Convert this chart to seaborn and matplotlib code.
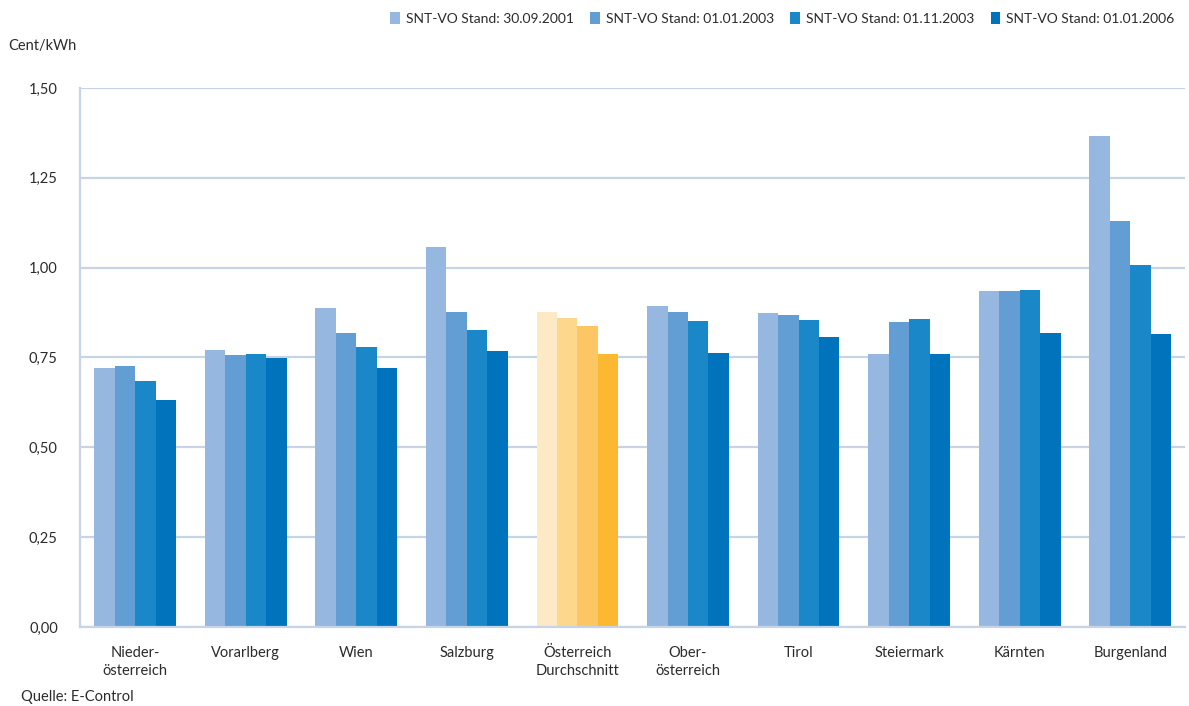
import matplotlib
matplotlib.use("Agg")
import matplotlib.pyplot as plt
import matplotlib.ticker as mticker
from matplotlib.patches import Patch
import numpy as np
import pandas as pd
import seaborn as sns

# Regions (x-axis categories)
regions = [
    "Nieder-\nösterreich", "Vorarlberg", "Wien", "Salzburg",
    "Österreich\nDurchschnitt", "Ober-\nösterreich", "Tirol",
    "Steiermark", "Kärnten", "Burgenland",
]

# Tariff levels (Cent/kWh) per ordinance version
stand_2001_09 = [0.721, 0.771, 0.888, 1.058, 0.877, 0.893, 0.874, 0.760, 0.935, 1.367]
stand_2003_01 = [0.726, 0.757, 0.818, 0.877, 0.860, 0.877, 0.868, 0.849, 0.935, 1.130]
stand_2003_11 = [0.685, 0.760, 0.779, 0.827, 0.838, 0.852, 0.854, 0.857, 0.938, 1.007]
stand_2006_01 = [0.632, 0.749, 0.721, 0.768, 0.760, 0.763, 0.807, 0.760, 0.818, 0.815]

series_names = [
    "SNT-VO Stand: 30.09.2001",
    "SNT-VO Stand: 01.01.2003",
    "SNT-VO Stand: 01.11.2003",
    "SNT-VO Stand: 01.01.2006",
]
series_values = [stand_2001_09, stand_2003_01, stand_2003_11, stand_2006_01]

y_ticks = [0.0, 0.25, 0.5, 0.75, 1.0, 1.25, 1.5]

blues = ["#95b7e0", "#629ed4", "#1a87c9", "#0073bd"]
oranges = ["#fde9c4", "#fdd78c", "#fcc665", "#fcb831"]
highlight = "Österreich\nDurchschnitt"

df = pd.DataFrame(
    [(r, s, v) for s, vals in zip(series_names, series_values) for r, v in zip(regions, vals)],
    columns=["Region", "Stand", "Wert"],
)

sns.set_theme(style="white")
plt.rcParams["font.family"] = ["Lato", "DejaVu Sans"]
text_col = "#2b2b2b"
grid_col = "#c6d4e6"

fig = plt.figure(figsize=(11.89, 7.06), dpi=100)
ax = fig.add_axes([0.0673, 0.1119, 0.9297, 0.7635])

sns.barplot(
    data=df, x="Region", y="Wert", hue="Stand",
    order=regions, hue_order=series_names, palette=blues,
    width=0.74, saturation=1, errorbar=None, legend=False, ax=ax,
)

# Highlight the national average group in orange tones
hi = regions.index(highlight)
for cont, col in zip(ax.containers, oranges):
    cont.patches[hi].set_facecolor(col)
for p in ax.patches:
    p.set_edgecolor("none")
    p.set_linewidth(0)

ax.set_ylim(0, 1.5)
ax.set_xlim(-0.5, len(regions) - 0.5)
ax.set_yticks(y_ticks)
ax.yaxis.set_major_formatter(mticker.FuncFormatter(lambda v, _: f"{v:.2f}".replace(".", ",")))
ax.set_axisbelow(True)
ax.yaxis.grid(True, color=grid_col, linewidth=1.6)
ax.xaxis.grid(False)

for side in ["top", "right"]:
    ax.spines[side].set_visible(False)
for side in ["left", "bottom"]:
    ax.spines[side].set_color(grid_col)
    ax.spines[side].set_linewidth(1.6)

ax.set_xlabel("")
ax.set_ylabel("")
ax.tick_params(axis="x", length=0, pad=14, labelsize=10.5, labelcolor=text_col)
ax.tick_params(axis="y", length=0, pad=16, labelsize=10.5, labelcolor=text_col)
ax.set_xticks(range(len(regions)))
ax.set_xticklabels(regions, linespacing=1.3)

# Separator ticks between categories, pointing upward from the baseline
ax.xaxis.set_minor_locator(mticker.FixedLocator(np.arange(0.5, len(regions) - 0.5, 1.0)))
ax.tick_params(axis="x", which="minor", direction="in", length=14, width=1.2, color=grid_col)

fig.text(0.007, 0.935, "Cent/kWh", fontsize=10.5, color=text_col, ha="left", va="center")
fig.text(0.018, 0.013, "Quelle: E-Control", fontsize=10.5, color=text_col, ha="left", va="center")

handles = [Patch(facecolor=c, edgecolor="none") for c in blues]
fig.legend(
    handles, series_names, loc="upper right", bbox_to_anchor=(0.998, 1.0),
    ncol=4, frameon=False, fontsize=10, handlelength=0.7, handleheight=0.9,
    handletextpad=0.4, columnspacing=1.2, labelcolor=text_col,
)

fig.savefig("out.png", dpi=100)
